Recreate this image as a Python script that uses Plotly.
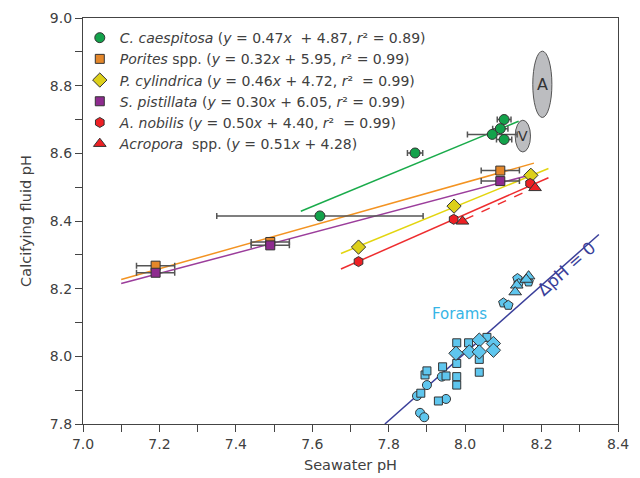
import plotly.graph_objects as go

# ---------------- data ----------------
# C. caespitosa
cc_x = [7.620, 7.869, 8.102, 8.092, 8.071, 8.102]
cc_y = [8.415, 8.601, 8.700, 8.673, 8.656, 8.641]
cc_xerr = [0.27, 0.02, 0.018, 0.02, 0.065, 0.02]
cc_line_x = [7.57, 8.14]
cc_line_y = [8.429, 8.695]

# Porites spp.
po_x = [7.19, 7.49, 8.092]
po_y = [8.268, 8.338, 8.549]
po_xerr = [0.05, 0.05, 0.05]
po_line_x = [7.10, 8.18]
po_line_y = [8.227, 8.571]

# P. cylindrica
pc_x = [7.721, 7.971, 8.172]
pc_y = [8.323, 8.444, 8.535]
pc_line_x = [7.675, 8.218]
pc_line_y = [8.304, 8.555]

# S. pistillata
sp_x = [7.19, 7.49, 8.092]
sp_y = [8.247, 8.328, 8.518]
sp_xerr = [0.05, 0.05, 0.05]
sp_line_x = [7.10, 8.16]
sp_line_y = [8.215, 8.533]

# A. nobilis
an_x = [7.721, 7.970, 8.170]
an_y = [8.280, 8.405, 8.511]
an_line_x = [7.675, 8.218]
an_line_y = [8.258, 8.528]

# Acropora spp.
ac_x = [7.993, 8.183]
ac_y = [8.399, 8.498]
ac_line_x = [8.00, 8.18]
ac_line_y = [8.405, 8.498]

# Forams
fo_circle_x = [7.882, 7.893, 7.950, 7.874, 7.900, 7.939]
fo_circle_y = [7.833, 7.820, 7.874, 7.883, 7.915, 7.940]
fo_square_x = [7.884, 7.930, 7.895, 7.900, 7.941, 7.950, 7.978, 7.978, 7.978, 7.978, 8.009, 8.037, 8.037, 8.057]
fo_square_y = [7.891, 7.868, 7.945, 7.957, 7.969, 7.942, 7.915, 7.940, 7.979, 8.040, 8.040, 7.991, 7.953, 8.056]
fo_diamond_x = [7.976, 8.011, 8.037, 8.037, 8.074, 8.074]
fo_diamond_y = [8.009, 8.013, 8.048, 8.013, 8.038, 8.018]
fo_pent_x = [8.100, 8.113, 8.137, 8.140, 8.166]
fo_pent_y = [8.158, 8.151, 8.230, 8.215, 8.220]
fo_tri_x = [8.166, 8.160, 8.135, 8.131]
fo_tri_y = [8.237, 8.227, 8.210, 8.190]

# Delta pH = 0 line
dph_x = [7.79, 8.35]
dph_y = [7.80, 8.36]

# Ellipses (A, V)
ell_labels = ["A", "V"]
ell_x = [8.202, 8.151]
ell_y = [8.804, 8.651]
ell_xr = [0.025, 0.020]
ell_yr = [0.098, 0.047]

# tick labels
x_ticks = [7.0, 7.2, 7.4, 7.6, 7.8, 8.0, 8.2, 8.4]
y_ticks = [7.8, 8.0, 8.2, 8.4, 8.6, 8.8, 9.0]

# ---------------- styles ----------------
FONT = "DejaVu Sans"
TXT = "#404040"
EDGE = "#333333"
ERRC = "#555555"
C_GREEN, L_GREEN = "#13a24b", "#1aab4b"
C_ORANGE, L_ORANGE = "#e4872a", "#f39322"
C_YELLOW, L_YELLOW = "#ddd01a", "#e3d50f"
C_PURPLE, L_PURPLE = "#8e2b8f", "#9b3d9b"
C_RED, L_RED = "#ee2024", "#ee2d2f"
C_FORAM = "#5fc6ee"
C_NAVY = "#3a3f9a"

fig = go.Figure()

def add_line(xs, ys, color, dash="solid"):
    fig.add_trace(go.Scatter(x=xs, y=ys, mode="lines", showlegend=False,
                             line=dict(color=color, width=1.5, dash=dash),
                             hoverinfo="skip"))

add_line(cc_line_x, cc_line_y, L_GREEN)
add_line(po_line_x, po_line_y, L_ORANGE)
add_line(pc_line_x, pc_line_y, L_YELLOW)
add_line(sp_line_x, sp_line_y, L_PURPLE)
add_line(an_line_x, an_line_y, L_RED)
add_line(ac_line_x, ac_line_y, L_RED, dash="dash")
add_line(dph_x, dph_y, C_NAVY)

def err(arr):
    return dict(type="data", array=arr, visible=True, color=ERRC, thickness=1.5, width=3)

def add_pts(xs, ys, name, symbol, color, size, xerr=None):
    fig.add_trace(go.Scatter(
        x=xs, y=ys, mode="markers", name=name,
        marker=dict(symbol=symbol, color=color, size=size, line=dict(color=EDGE, width=1)),
        error_x=err(xerr) if xerr is not None else None))

add_pts(cc_x, cc_y, "<i>C. caespitosa</i> (<i>y</i> = 0.47<i>x</i>  + 4.87, <i>r</i>² = 0.89)",
        "circle", C_GREEN, 10, cc_xerr)
add_pts(po_x, po_y, "<i>Porites</i> spp. (<i>y</i> = 0.32<i>x</i> + 5.95, <i>r</i>² = 0.99)",
        "square", C_ORANGE, 9, po_xerr)
add_pts(pc_x, pc_y, "<i>P. cylindrica</i> (<i>y</i> = 0.46<i>x</i> + 4.72, <i>r</i>²  = 0.99)",
        "diamond", C_YELLOW, 11)
add_pts(sp_x, sp_y, "<i>S. pistillata</i> (<i>y</i> = 0.30<i>x</i> + 6.05, <i>r</i>² = 0.99)",
        "square", C_PURPLE, 9, sp_xerr)
add_pts(an_x, an_y, "<i>A. nobilis</i> (<i>y</i> = 0.50<i>x</i> + 4.40, <i>r</i>²  = 0.99)",
        "hexagon", C_RED, 10)
add_pts(ac_x, ac_y, "<i>Acropora</i>  spp. (<i>y</i> = 0.51<i>x</i> + 4.28)",
        "triangle-up", C_RED, 11)

def add_foram(xs, ys, symbol, size):
    fig.add_trace(go.Scatter(x=xs, y=ys, mode="markers", showlegend=False,
                             marker=dict(symbol=symbol, color=C_FORAM, size=size,
                                         line=dict(color=EDGE, width=1))))

add_foram(fo_circle_x, fo_circle_y, "circle", 9)
add_foram(fo_square_x, fo_square_y, "square", 8)
add_foram(fo_diamond_x, fo_diamond_y, "diamond", 11)
add_foram(fo_pent_x, fo_pent_y, "pentagon", 10)
add_foram(fo_tri_x, fo_tri_y, "triangle-up", 11)

# ellipses
for lab, ex, ey, rx, ry in zip(ell_labels, ell_x, ell_y, ell_xr, ell_yr):
    fig.add_shape(type="circle", xref="x", yref="y", x0=ex - rx, x1=ex + rx,
                  y0=ey - ry, y1=ey + ry, fillcolor="#bcbdc0",
                  line=dict(color="#555555", width=1), layer="below")
    fig.add_annotation(x=ex, y=ey, text=lab, showarrow=False,
                       font=dict(family=FONT, size=16 if lab == "A" else 14, color="#333333"))

fig.add_annotation(x=7.984, y=8.125, text="Forams", showarrow=False,
                   font=dict(family=FONT, size=15, color="#37b5e6"))
fig.add_annotation(x=8.264, y=8.258, text="ΔpH = 0", showarrow=False, textangle=-41.6,
                   font=dict(family=FONT, size=17, color=C_NAVY))

axis_common = dict(showline=True, linecolor="#444444", linewidth=1.2, mirror=True,
                   ticks="outside", ticklen=7, tickwidth=1, tickcolor="#444444",
                   showgrid=False, zeroline=False, automargin=False,
                   tickfont=dict(family=FONT, size=14, color=TXT),
                   minor=dict(dtick=0.1, ticks="outside", ticklen=7, tickwidth=1,
                              tickcolor="#444444", showgrid=False))

fig.update_layout(
    width=632, height=470,
    margin=dict(l=75, r=22, t=9.5, b=54),
    paper_bgcolor="white", plot_bgcolor="white",
    font=dict(family=FONT, size=14, color=TXT),
    xaxis=dict(range=[7.0, 8.4], tickvals=x_ticks, ticktext=[f"{v:.1f}" for v in x_ticks],
               title=dict(text="Seawater pH", font=dict(family=FONT, size=14.5, color=TXT), standoff=8),
               **axis_common),
    yaxis=dict(range=[7.8, 9.0], tickvals=y_ticks, ticktext=[f"{v:.1f}" for v in y_ticks],
               title=dict(text="Calcifying fluid pH", font=dict(family=FONT, size=14.5, color=TXT), standoff=14),
               **axis_common),
    legend=dict(x=-0.006, y=0.99, xanchor="left", yanchor="top", bgcolor="rgba(0,0,0,0)",
                font=dict(family=FONT, size=14, color=TXT), tracegroupgap=0,
                itemsizing="trace"),
    showlegend=True,
)

fig.write_html("out.html")
